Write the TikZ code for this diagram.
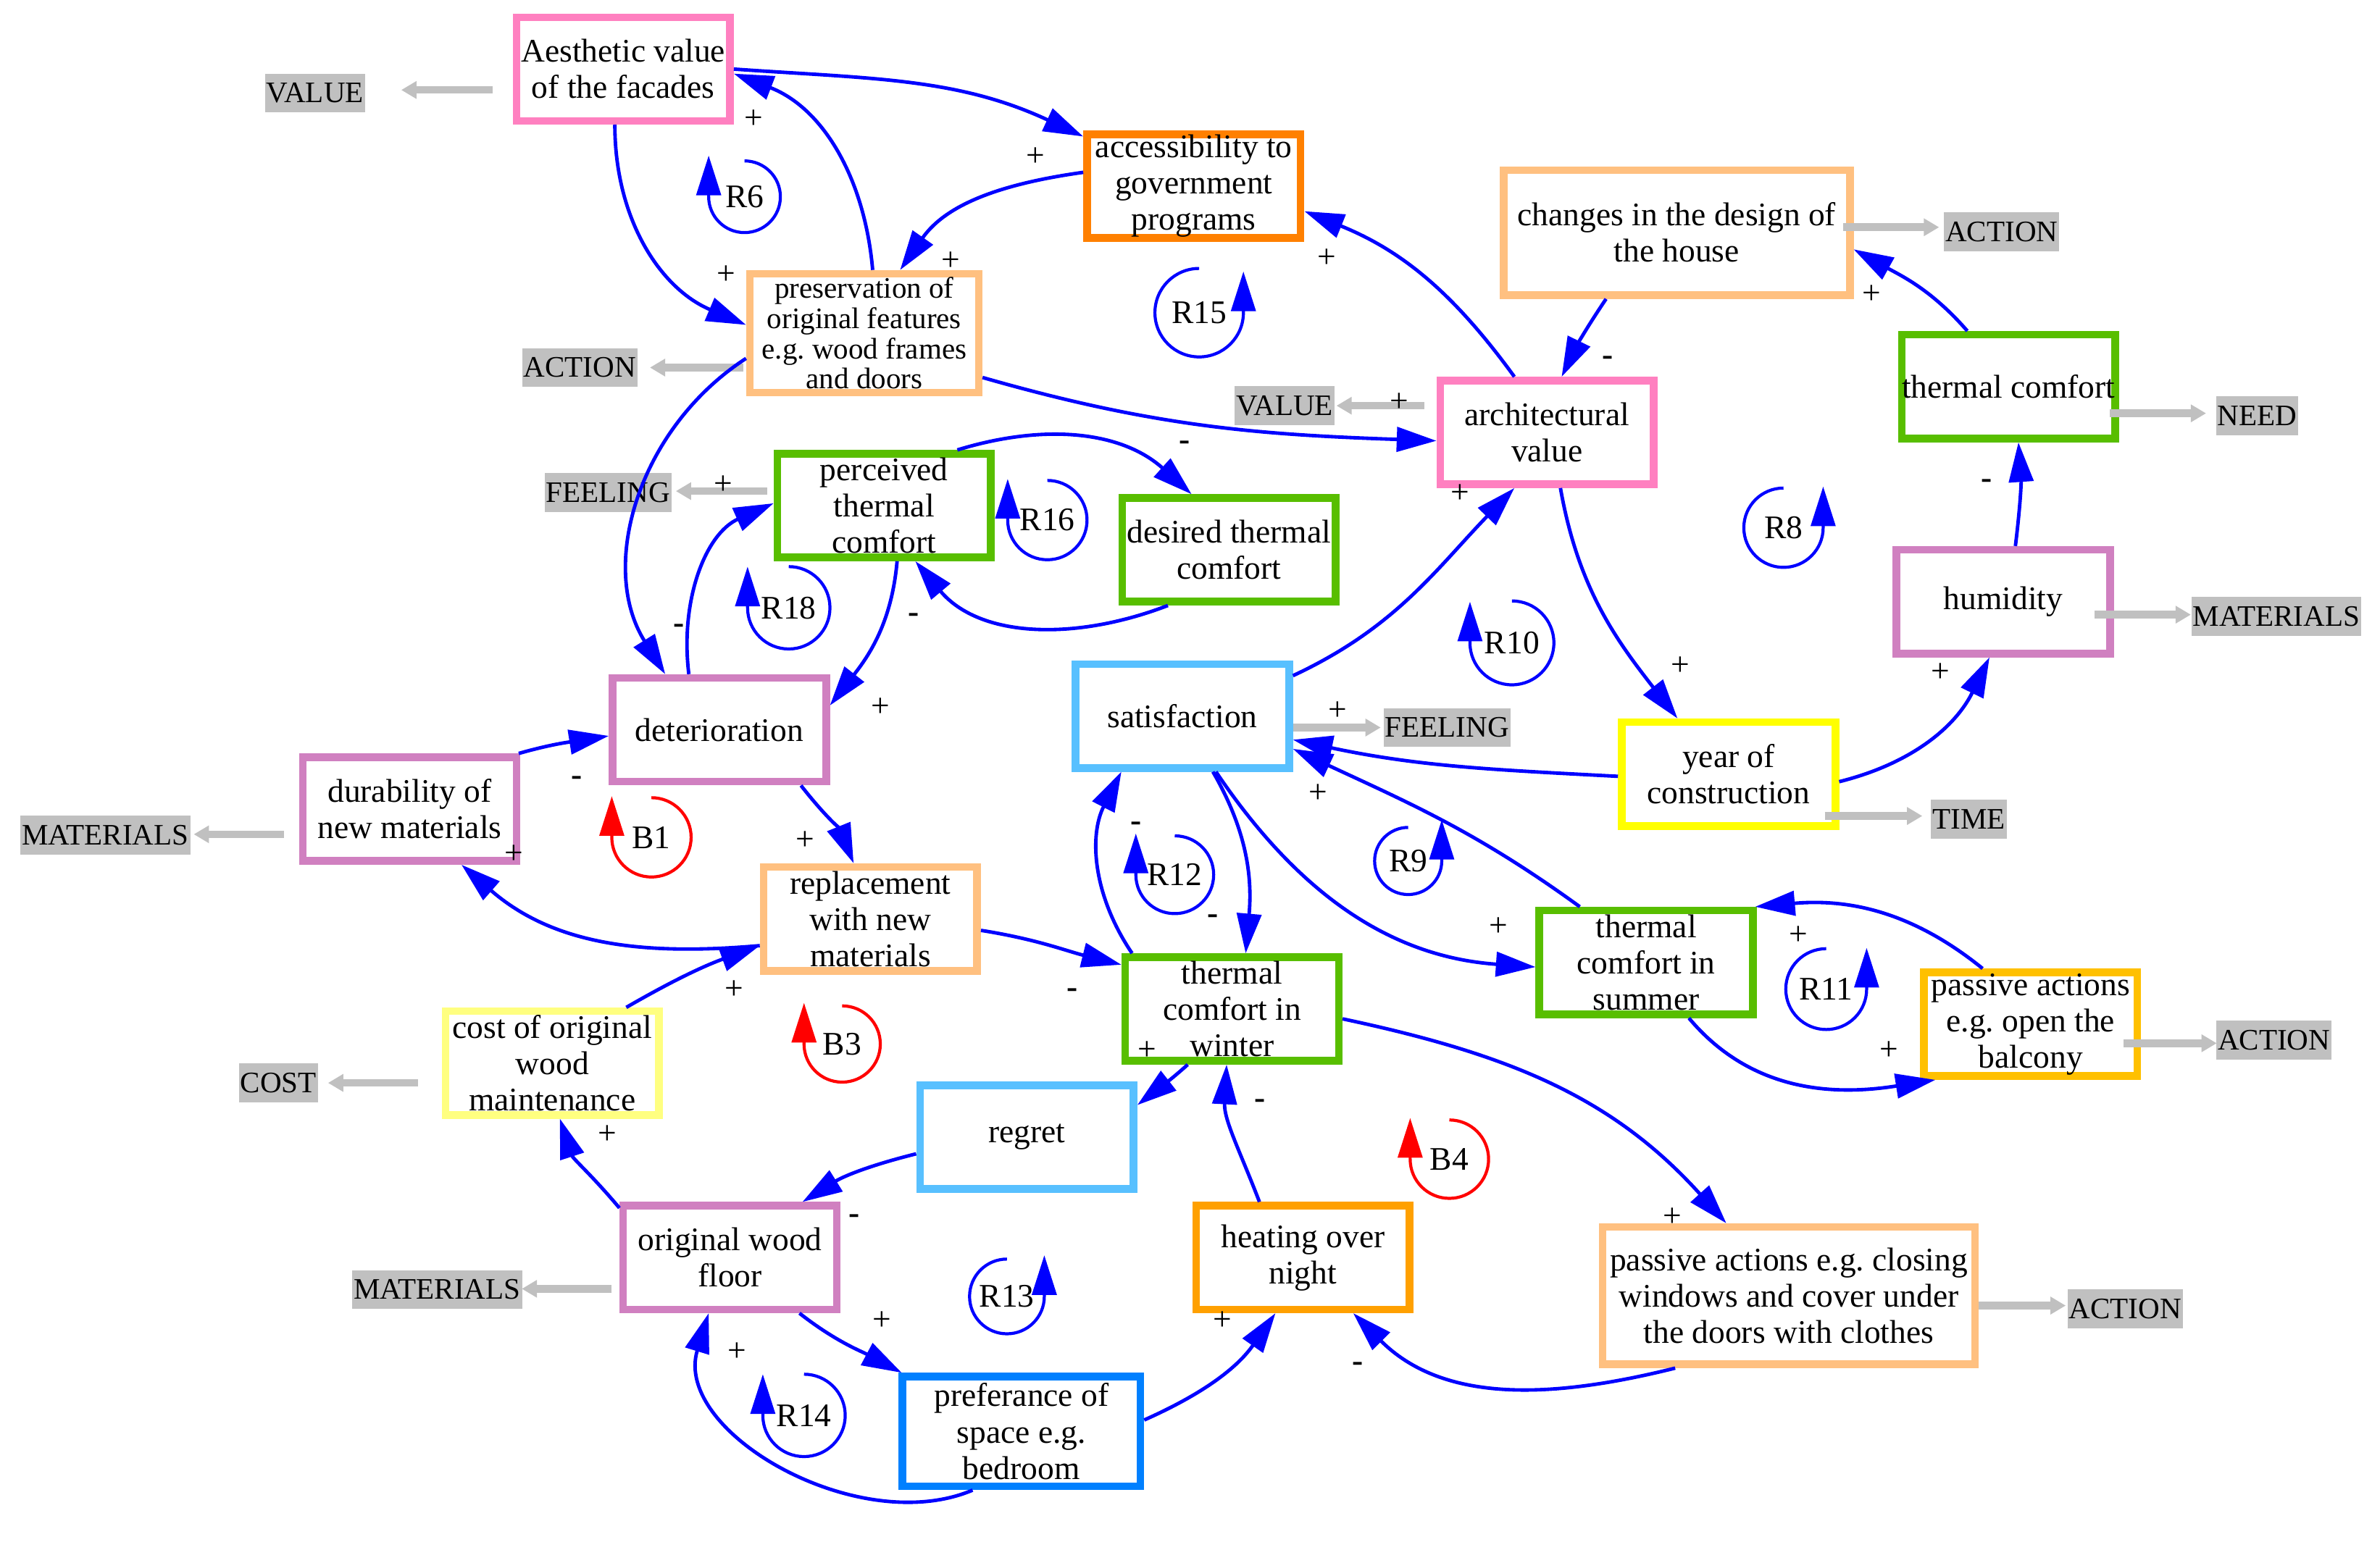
\documentclass[tikz,border=0pt]{standalone}
\usepackage{fontspec}
\setmainfont{Liberation Serif}
\usetikzlibrary{arrows.meta}
\frenchspacing
\definecolor{pinkc}{RGB}{255,128,192}
\definecolor{orangec}{RGB}{255,128,0}
\definecolor{peachc}{RGB}{255,192,128}
\definecolor{greenc}{RGB}{88,190,0}
\definecolor{orchidc}{RGB}{208,128,192}
\definecolor{skyc}{RGB}{88,192,255}
\definecolor{yellowc}{RGB}{255,255,0}
\definecolor{lyellowc}{RGB}{255,255,128}
\definecolor{amberc}{RGB}{255,192,0}
\definecolor{bluebx}{RGB}{0,128,255}
\definecolor{heatc}{RGB}{255,160,0}
\definecolor{grayc}{RGB}{192,192,192}
\definecolor{cblue}{RGB}{0,0,255}
\definecolor{cred}{RGB}{255,0,0}
\newcommand{\bfnt}{\fontsize{21.6}{23.8}\selectfont}
\newcommand{\lfnt}{\fontsize{19.5}{20}\selectfont}
\newcommand{\pfnt}{\fontsize{19.5}{19.8}\selectfont}
\newcommand{\cwloop}[6]{%
  \node[lbl] (#1) at (#2,-#3) {#5};
  \draw[lp,draw=#6] ([yshift=#4pt]#1.center) arc[start angle=90,end angle=-180,radius=#4pt] -- ++(0,27);}
\newcommand{\ccwloop}[6]{%
  \node[lbl] (#1) at (#2,-#3) {#5};
  \draw[lp,draw=#6] ([yshift=#4pt]#1.center) arc[start angle=90,end angle=360,radius=#4pt] -- ++(0,27);}
\newcommand{\sg}[4]{\node[sgn] (#1) at (#2,-#3) {#4};}
\begin{document}
\begin{tikzpicture}[x=1pt,y=1pt,
 bx/.style={draw=#1,line width=5pt,fill=white,inner sep=0pt,align=center,font=\bfnt,minimum width=140pt,minimum height=68pt},
 glab/.style={fill=grayc,inner xsep=1pt,inner ysep=0pt,minimum height=25.5pt,font=\lfnt},
 conn/.style={draw=cblue,line width=2.3pt,-{Triangle[length=26pt,width=16pt]}},
 garr/.style={draw=grayc,line width=5pt,-{Triangle[length=10pt,width=11pt]}},
 lbl/.style={font=\bfnt,inner sep=0pt},
 sgn/.style={font=\bfnt,inner sep=0pt,anchor=base,yshift=-5.2pt},
 lp/.style={line width=2pt,-{Triangle[length=26pt,width=16pt]}}]
\useasboundingbox (0,0) rectangle (1560,-1015.8);
\fill[white] (0,0) rectangle (1560,-1015.8);

% gray category labels
\node[glab] (v1) at (206.5,-61) {VALUE};
\node[glab] (a1) at (380,-241) {ACTION};
\node[glab] (f1) at (398.5,-323) {FEELING};
\node[glab] (m1) at (69,-547.5) {MATERIALS};
\node[glab] (co) at (182.5,-710) {COST};
\node[glab] (m2) at (286.5,-845.5) {MATERIALS};
\node[glab] (v2) at (842,-266) {VALUE};
\node[glab] (a2) at (1312,-152) {ACTION};
\node[glab] (ne) at (1479.5,-272.5) {NEED};
\node[glab] (m3) at (1492,-404) {MATERIALS};
\node[glab] (f2) at (948.5,-477) {FEELING};
\node[glab] (ti) at (1290.5,-537) {TIME};
\node[glab] (a3) at (1490.5,-682) {ACTION};
\node[glab] (a4) at (1393,-858) {ACTION};

% boxes
\node[bx=pinkc] (aest) at (408.5,-45.3) {Aesthetic value\\of the facades};
\node[bx=orangec] (acc) at (782.5,-122) {accessibility to\\government\\programs};
\node[bx=peachc,font=\pfnt,minimum width=150pt,minimum height=78pt] (pres) at (566.5,-218.5) {preservation of\\original features\\e.g. wood frames\\and doors};
\node[bx=peachc,minimum width=227pt,minimum height=82pt] (chg) at (1099,-152.5) {changes in the design of\\the house};
\node[bx=pinkc] (arch) at (1014,-283.5) {architectural\\value};
\node[bx=greenc] (tc) at (1316.5,-253.5) {thermal comfort};
\node[bx=orchidc] (hum) at (1313,-394.5) {humidity};
\node[bx=greenc] (perc) at (579.5,-331.5) {perceived\\thermal\\comfort};
\node[bx=greenc] (des) at (805.5,-360.5) {desired thermal\\comfort};
\node[bx=orchidc] (det) at (471.5,-478.5) {deterioration};
\node[bx=orchidc] (dur) at (268.5,-530.5) {durability of\\new materials};
\node[bx=skyc] (sat) at (775,-469.5) {satisfaction};
\node[bx=yellowc] (year) at (1133,-507.5) {year of\\construction};
\node[bx=peachc] (repl) at (570.5,-602.5) {replacement\\with new\\materials};
\node[bx=greenc] (win) at (807.5,-661.5) {thermal\\comfort in\\winter};
\node[bx=greenc] (tsum) at (1079,-631) {thermal\\comfort in\\summer};
\node[bx=amberc] (balc) at (1331,-671.5) {passive actions\\e.g. open the\\balcony};
\node[bx=lyellowc] (cost) at (362,-697) {cost of original\\wood\\maintenance};
\node[bx=skyc] (regret) at (673,-745.5) {regret};
\node[bx=orchidc] (wfloor) at (478.5,-824.5) {original wood\\floor};
\node[bx=bluebx,minimum width=156pt,minimum height=72pt] (pref) at (669.5,-938.5) {preferance of\\space e.g.\\bedroom};
\node[bx=heatc] (heat) at (854,-824.5) {heating over\\night};
\node[bx=peachc,minimum width=244pt,minimum height=90pt] (pclose) at (1172.5,-849.5) {passive actions e.g. closing\\windows and cover under\\the doors with clothes};

% gray arrows
\draw[garr] ([shift={(-13,-13.7)}]aest.west) -- ([shift={(56.5,2)}]v1.center);
\draw[garr] ([shift={(-2,-22.5)}]pres.west) -- ([shift={(46,0)}]a1.center);
\draw[garr] ([shift={(-4,9.5)}]perc.west) -- ([shift={(44.5,1)}]f1.center);
\draw[garr] ([shift={(-10,-16.5)}]dur.west) -- ([shift={(58,0.5)}]m1.center);
\draw[garr] ([shift={(-7,3.5)}]chg.east) -- ([shift={(-41,3)}]a2.center);
\draw[garr] ([shift={(-8,17.5)}]arch.west) -- ([shift={(34,0)}]v2.center);
\draw[garr] ([shift={(-6,-17.5)}]tc.east) -- ([shift={(-33.5,1.5)}]ne.center);
\draw[garr] ([shift={(-12.5,-8.5)}]hum.east) -- ([shift={(-56,1)}]m3.center);
\draw[garr] ([shift={(0,-7.5)}]sat.east) -- ([shift={(-43.5,0)}]f2.center);
\draw[garr] ([shift={(-9.5,-27.5)}]year.east) -- ([shift={(-30.5,2)}]ti.center);
\draw[garr] ([shift={(-11.5,-12.5)}]balc.east) -- ([shift={(-37.5,-2)}]a3.center);
\draw[garr] ([shift={(-15.5,-13)}]cost.west) -- ([shift={(32.5,0)}]co.center);
\draw[garr] ([shift={(-5,-20.5)}]wfloor.west) -- ([shift={(55.5,0.5)}]m2.center);
\draw[garr] ([shift={(0,-6.5)}]pclose.east) -- ([shift={(-39,2)}]a4.center);

% causal connectors
\draw[conn] (aest.east) to[out=-4,in=155] ([shift={(0,-4)}]acc.north west);
\draw[conn] ([shift={(0,9)}]acc.west) to[out=188,in=55] ([shift={(23.5,0)}]pres.north);
\draw[conn] ([shift={(5.5,0)}]pres.north) to[out=95,in=-21] ([shift={(0,-3)}]aest.east);
\draw[conn] ([shift={(-5.5,0)}]aest.south) to[out=-90,in=157] ([shift={(0,5.5)}]pres.west);
\draw[conn] ([shift={(0,-16.5)}]pres.west) to[out=213,in=122] ([shift={(-35.5,0)}]det.north);
\draw[conn] ([shift={(-20,0)}]det.north) to[out=97,in=204] ([shift={(0,1.5)}]perc.west);
\draw[conn] ([shift={(8.5,0)}]perc.south) to[out=-95,in=52] ([shift={(0,16)}]det.east);
\draw[conn] ([shift={(48,0)}]perc.north) to[out=17,in=138] ([shift={(-24.5,0)}]des.north);
\draw[conn] ([shift={(-40,0)}]des.south) to[out=201,in=-50] ([shift={(20.5,0)}]perc.south);
\draw[conn] ([shift={(0,-29)}]pres.east) to[out=-16,in=178] ([shift={(0,-5.5)}]arch.west);
\draw[conn] ([shift={(-21.4,0)}]arch.north) to[out=126,in=-22] ([shift={(0,-16.5)}]acc.east);
\draw[conn] ([shift={(-46.3,0)}]chg.south) to[out=236,in=64] ([shift={(9.6,0)}]arch.north);
\draw[conn] ([shift={(-27,0)}]tc.north) to[out=131,in=-29] ([shift={(0,-11)}]chg.east);
\draw[conn] ([shift={(8,0)}]hum.north) to[out=83,in=-86] ([shift={(6.5,0)}]tc.south);
\draw[conn] ([shift={(8.8,0)}]arch.south) to[out=-80,in=128] ([shift={(-33.5,0)}]year.north);
\draw[conn] ([shift={(0,-5)}]year.east) to[out=14,in=-116] ([shift={(-9,0)}]hum.south);
\draw[conn] ([shift={(0,-1.5)}]year.west) to[out=177,in=-12] ([shift={(0,-15.5)}]sat.east);
\draw[conn] ([shift={(-43.5,0)}]tsum.north) to[out=144,in=-25] ([shift={(0,-21.5)}]sat.east);
\draw[conn] ([shift={(0,26.5)}]sat.east) to[out=25,in=-134] ([shift={(-21.4,0)}]arch.south);
\draw[conn] ([shift={(20,0)}]sat.south) to[out=-60,in=85] ([shift={(9,0)}]win.north);
\draw[conn] ([shift={(7,0)}]win.north west) to[out=124,in=-117] ([shift={(-40,0)}]sat.south);
\draw[conn] ([shift={(22,0)}]sat.south) to[out=-56,in=176] ([shift={(0,-3)}]tsum.west);
\draw[conn] ([shift={(28,0)}]tsum.south) to[out=-50,in=189] ([shift={(10,0)}]balc.south west);
\draw[conn] ([shift={(-31.5,0)}]balc.north) to[out=141,in=5] ([shift={(-1,0)}]tsum.north east);
\draw[conn] ([shift={(0,-7.5)}]repl.east) to[out=-9,in=166] ([shift={(0,29)}]win.west);
\draw[conn] ([shift={(53.5,0)}]det.south) to[out=-52,in=112] ([shift={(-11,0)}]repl.north);
\draw[conn] ([shift={(-1,0)}]dur.north east) to[out=16,in=189] ([shift={(0,-4)}]det.west);
\draw[conn] ([shift={(0,-17.5)}]repl.west) to[out=185,in=-41] ([shift={(34,0)}]dur.south);
\draw[conn] ([shift={(48.5,0)}]cost.north) to[out=30,in=200] ([shift={(0,-17.5)}]repl.west);
\draw[conn] ([shift={(-29,0)}]win.south) to[out=222,in=38] ([shift={(0,21)}]regret.east);
\draw[conn] ([shift={(-28.5,0)}]heat.north) to[out=111,in=-93] ([shift={(-3.5,0)}]win.south);
\draw[conn] ([shift={(0,-11)}]regret.west) to[out=194,in=32] ([shift={(47.5,0)}]wfloor.north);
\draw[conn] ([shift={(0,-4)}]wfloor.north west) to[out=130,in=-72] ([shift={(5,0)}]cost.south);
\draw[conn] ([shift={(45.5,0)}]wfloor.south) to[out=-38,in=152] ([shift={(2,0)}]pref.north west);
\draw[conn] ([shift={(-32,0)}]pref.south) to[out=203,in=-107] ([shift={(-14,0)}]wfloor.south);
\draw[conn] ([shift={(0,7.5)}]pref.east) to[out=24,in=-125] ([shift={(-18,0)}]heat.south);
\draw[conn] ([shift={(-74.5,0)}]pclose.south) to[out=194,in=-45] ([shift={(33,0)}]heat.south);
\draw[conn] ([shift={(0,-6.5)}]win.east) to[out=-12,in=132] ([shift={(-41,0)}]pclose.north);

% loop markers
\cwloop{R6}{488}{129}{23.5}{R6}{cblue}
\ccwloop{R15}{786}{205}{29}{R15}{cblue}
\cwloop{R16}{686.5}{341}{26}{R16}{cblue}
\cwloop{R18}{517}{398.5}{27}{R18}{cblue}
\ccwloop{R8}{1169}{346}{26}{R8}{cblue}
\cwloop{R10}{991}{421.5}{27.5}{R10}{cblue}
\cwloop{B1}{427}{549}{26}{B1}{cred}
\cwloop{R12}{770}{573.5}{25.5}{R12}{cblue}
\ccwloop{R9}{923}{564.5}{22}{R9}{cblue}
\ccwloop{R11}{1197}{648.5}{26.5}{R11}{cblue}
\cwloop{B3}{552}{684.5}{25}{B3}{cred}
\cwloop{B4}{950}{760}{25.7}{B4}{cred}
\ccwloop{R13}{660}{850}{24.5}{R13}{cblue}
\cwloop{R14}{527}{928}{27}{R14}{cblue}

% polarity signs
\sg{s1}{494}{79}{+}
\sg{s2}{476}{181}{+}
\sg{s3}{678.6}{104}{+}
\sg{s4}{623}{172}{+}
\sg{s5}{869.5}{170.4}{+}
\sg{s6}{917}{265}{+}
\sg{s7}{776.5}{290}{\textbf{-}}
\sg{s8}{957}{324.5}{+}
\sg{s9}{599}{403}{\textbf{-}}
\sg{s10}{1054}{234.6}{\textbf{-}}
\sg{s11}{1227}{194}{+}
\sg{s12}{1302}{315}{\textbf{-}}
\sg{s13}{1101.5}{437.6}{+}
\sg{s14}{1272}{442}{+}
\sg{s15}{445}{410}{\textbf{-}}
\sg{s16}{378}{510}{\textbf{-}}
\sg{s17}{337}{561}{+}
\sg{s18}{527.6}{552}{+}
\sg{s19}{481}{650}{+}
\sg{s20}{577}{464.7}{+}
\sg{s21}{877}{467}{+}
\sg{s22}{864}{521}{+}
\sg{s23}{744.5}{539.5}{\textbf{-}}
\sg{s24}{795}{600.6}{\textbf{-}}
\sg{s25}{982}{608.7}{+}
\sg{s26}{703}{649}{\textbf{-}}
\sg{s27}{752}{690}{+}
\sg{s28}{826}{721.6}{\textbf{-}}
\sg{s29}{1179}{614.5}{+}
\sg{s30}{1238}{690}{+}
\sg{s31}{398}{745}{+}
\sg{s32}{560}{797}{\textbf{-}}
\sg{s33}{578}{867}{+}
\sg{s34}{483}{887.5}{+}
\sg{s35}{801.5}{867}{+}
\sg{s36}{890}{894}{\textbf{-}}
\sg{s37}{1096}{799}{+}
\sg{s38}{474}{319}{+}
\end{tikzpicture}
\end{document}
